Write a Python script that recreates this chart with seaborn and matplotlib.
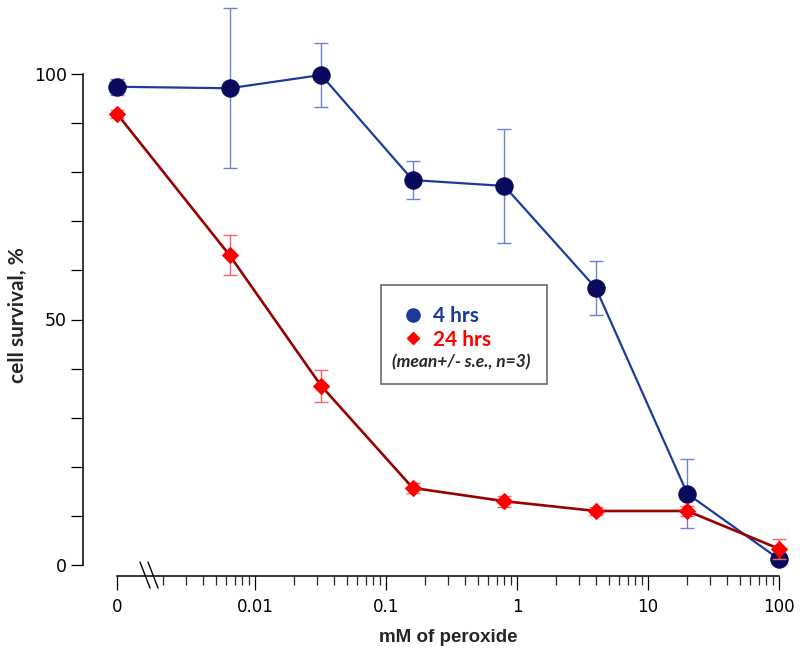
import numpy as np
import pandas as pd
import matplotlib
matplotlib.use("Agg")
import matplotlib.pyplot as plt
import seaborn as sns
from matplotlib.lines import Line2D
from matplotlib.patches import Rectangle
from matplotlib.ticker import FixedLocator, FixedFormatter, NullFormatter

# datos
dosis = [0, 0.0064, 0.032, 0.16, 0.8, 4, 20, 100]
sup_4h = [97.4, 97.1, 99.8, 78.4, 77.2, 56.4, 14.5, 1.2]
err_4h = [1.6, 16.3, 6.6, 3.8, 11.7, 5.5, 7.0, 0.6]
sup_24h = [91.9, 63.1, 36.5, 15.7, 13.0, 11.0, 11.0, 3.3]
err_24h = [0.8, 4.1, 3.3, 1.0, 1.1, 0.8, 1.0, 2.0]

ticks_mayores = [0, 0.01, 0.1, 1, 10, 100]
etiquetas_x = ["0", "0.01", "0.1", "1", "10", "100"]

# posicion (en decadas) donde se dibuja la dosis 0
POS_CERO = -3.053


def adelante(x):
    x = np.asarray(x, dtype=float)
    seguro = np.where(x > 0, x, 1.0)
    return np.where(x > 0, np.log10(seguro), POS_CERO)


def atras(y):
    y = np.asarray(y, dtype=float)
    return np.where(y > POS_CERO + 1e-9, 10.0 ** y, 0.0)


df = pd.DataFrame({"dosis": dosis, "h4": sup_4h, "e4": err_4h,
                   "h24": sup_24h, "e24": err_24h})

sns.set_style("ticks")
plt.rcParams["font.family"] = ["DejaVu Sans"]

fig = plt.figure(figsize=(8, 6.56), dpi=100)
ax = fig.add_axes([117 / 800, 1 - 565 / 656, 662 / 800, 491 / 656])
ax.set_xscale("function", functions=(adelante, atras))

# 4 hrs
ax.errorbar(df["dosis"], df["h4"], yerr=df["e4"], fmt="none", ecolor="#6f80cc",
            elinewidth=1.0, capsize=5, capthick=1.0, clip_on=False, zorder=2)
sns.lineplot(data=df, x="dosis", y="h4", ax=ax, color="#1c3c9c", lw=1.6,
             marker="o", markersize=12.5, markerfacecolor="#0a0a5c",
             markeredgecolor="#0a0a5c", clip_on=False, zorder=3)

# 24 hrs
ax.errorbar(df["dosis"], df["h24"], yerr=df["e24"], fmt="none", ecolor="#ff6060",
            elinewidth=1.0, capsize=5, capthick=1.0, clip_on=False, zorder=4)
sns.lineplot(data=df, x="dosis", y="h24", ax=ax, color="#990000", lw=1.9,
             marker="D", markersize=8, markerfacecolor="#ff0000",
             markeredgecolor="#ff0000", clip_on=False, zorder=5)

ax.set_xlim(0, 100)
ax.set_ylim(0, 100)

menores = [m * 10.0 ** d for d in range(-3, 2) for m in range(2, 10)]
ax.xaxis.set_major_locator(FixedLocator(ticks_mayores))
ax.xaxis.set_major_formatter(FixedFormatter(etiquetas_x))
ax.xaxis.set_minor_locator(FixedLocator(menores))
ax.xaxis.set_minor_formatter(NullFormatter())
ax.set_yticks([0, 50, 100])
ax.set_yticks(range(10, 100, 10), minor=True)

for lado in ["top", "right"]:
    ax.spines[lado].set_visible(False)
ax.spines["left"].set_position(("outward", 24.5))
ax.spines["bottom"].set_position(("outward", 8))
for lado in ["left", "bottom"]:
    ax.spines[lado].set_linewidth(1.1)
    ax.spines[lado].set_color("black")

ax.tick_params(axis="x", which="major", length=10, width=0.9, pad=6,
               labelsize=12, colors="black")
ax.tick_params(axis="x", which="minor", length=6.5, width=0.9)
ax.tick_params(axis="y", which="both", length=8.6, width=0.9, pad=3,
               labelsize=12.5, colors="black")

ax.set_xlabel("mM of peroxide", fontsize=13.5, fontweight="bold",
              family=["Liberation Sans", "DejaVu Sans"])
ax.xaxis.set_label_coords(0.5, -0.131)
ax.set_ylabel("cell survival, %", fontsize=15, fontweight="bold",
              family=["Lato", "DejaVu Sans"])
ax.yaxis.set_label_coords(-0.134, 0.509)

# marcas de corte del eje x
for x0 in [140, 148]:
    fig.add_artist(Line2D([x0 / 800, (x0 + 10) / 800],
                          [1 - 562 / 656, 1 - 588 / 656],
                          transform=fig.transFigure, color="black", lw=1.0))

# leyenda
fig.add_artist(Rectangle((381 / 800, 1 - 384 / 656), 166 / 800, 99 / 656,
                         transform=fig.transFigure, fill=False,
                         edgecolor="#6a6a6a", lw=1.2))
manejadores = [
    Line2D([], [], ls="none", marker="o", ms=9.5, color="#1a3a9a"),
    Line2D([], [], ls="none", marker="D", ms=6.5, color="#ff0000"),
]
leg = fig.legend(manejadores, ["4 hrs", "24 hrs"], loc="upper left",
                 bbox_to_anchor=(392 / 800, 1 - 296 / 656), frameon=False,
                 borderpad=0, handlelength=1, handletextpad=0.45,
                 labelspacing=0.15, prop={"family": "Lato", "weight": "bold", "size": 15})
for txt, col in zip(leg.get_texts(), ["#1a3a9a", "#ff0000"]):
    txt.set_color(col)
fig.text(392 / 800, 1 - 362 / 656, "(mean+/- s.e., n=3)", ha="left", va="center",
         fontsize=12.5, fontweight="bold", fontstyle="italic", family="Lato")

fig.savefig("out.png", dpi=100)
